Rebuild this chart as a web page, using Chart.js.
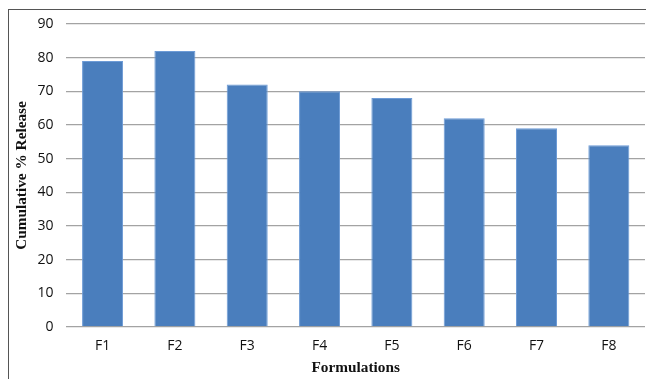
<!DOCTYPE html>
<html>
<head>
<meta charset="utf-8">
<script src="https://cdn.jsdelivr.net/npm/chart.js@4"></script>
<style>
  html, body { margin: 0; padding: 0; background: #fff; overflow: hidden; }
  #wrap { position: relative; width: 646px; height: 379px; }
  #frame { position: absolute; left: 8px; top: 9px; width: 700px; height: 400px;
           border-left: 1.5px solid #555; border-top: 1.5px solid #555; }
  canvas { position: absolute; left: 0; top: 0; }
</style>
</head>
<body>
<div id="wrap">
  <div id="frame"></div>
  <canvas id="chart" width="646" height="379"></canvas>
</div>
<script>
// Cumulative drug release per formulation
const formulations = ['F1', 'F2', 'F3', 'F4', 'F5', 'F6', 'F7', 'F8'];
const cumulativeRelease = [79, 82, 72, 70, 68, 62, 59, 54];
const yTicks = [0, 10, 20, 30, 40, 50, 60, 70, 80, 90];

const tickFont = { family: '"Open Sans", "Liberation Sans", sans-serif', size: 14 };
const titleFont = { family: '"Liberation Serif", "Times New Roman", serif', size: 15.3, weight: 'bold' };

new Chart(document.getElementById('chart'), {
  type: 'bar',
  data: {
    labels: formulations,
    datasets: [{
      data: cumulativeRelease,
      backgroundColor: '#4a7ebd',
      borderColor: '#6d9bd6',
      borderWidth: 1,
      barPercentage: 0.567,
      categoryPercentage: 1.0
    }]
  },
  options: {
    responsive: false,
    animation: false,
    layout: { padding: { top: 24, right: 1, left: 0, bottom: 0 } },
    plugins: { legend: { display: false }, tooltip: { enabled: false } },
    scales: {
      x: {
        grid: { display: false, drawTicks: false },
        border: { display: false },
        ticks: { font: tickFont, color: '#111', padding: 11 },
        title: { display: true, text: 'Formulations', font: titleFont, color: '#111',
                 padding: { top: 0, bottom: 2 } },
        afterFit: s => { s.height = 52; }
      },
      y: {
        min: 0, max: 90,
        afterBuildTicks: s => { s.ticks = yTicks.map(v => ({ value: v })); },
        grid: { color: '#a3a3a3', lineWidth: 1.3, drawTicks: false },
        border: { display: false },
        ticks: { font: tickFont, color: '#111', padding: 13 },
        title: { display: true, text: 'Cumulative % Release', font: titleFont, color: '#111',
                 padding: { top: 13, bottom: 0 } },
        afterFit: s => { s.width = 66.4; }
      }
    }
  }
});
</script>
</body>
</html>
